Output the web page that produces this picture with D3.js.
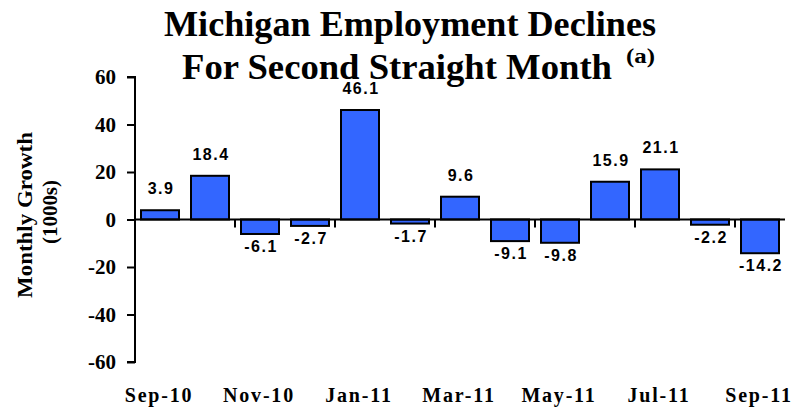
<!DOCTYPE html>
<html lang="en">
<head>
  <meta charset="UTF-8">
  <title>Michigan Employment Declines</title>
  <script src="https://d3js.org/d3.v7.min.js"></script>
  <style>
    body { margin: 0; background: #fff; }
    svg { display: block; }
    .title { font-family: "Liberation Serif", "Times New Roman", serif; font-weight: bold; }
    .tick-y { font-family: "Liberation Serif", "Times New Roman", serif; font-weight: bold; font-size: 21px; }
    .tick-x { font-family: "Liberation Serif", "Times New Roman", serif; font-weight: bold; font-size: 20px; letter-spacing: 1.8px; }
    .val { font-family: "Liberation Sans", Arial, sans-serif; font-weight: bold; font-size: 16px; letter-spacing: 1.5px; }
  </style>
</head>
<body>
  <svg width="809" height="410"></svg>
  <script>
    const months = ["Sep-10", "Oct-10", "Nov-10", "Dec-10", "Jan-11", "Feb-11", "Mar-11",
                    "Apr-11", "May-11", "Jun-11", "Jul-11", "Aug-11", "Sep-11"];
    const growth = [3.9, 18.4, -6.1, -2.7, 46.1, -1.7, 9.6, -9.1, -9.8, 15.9, 21.1, -2.2, -14.2];
    const yTicks = [-60, -40, -20, 0, 20, 40, 60];
    const xLabels = ["Sep-10", "Nov-10", "Jan-11", "Mar-11", "May-11", "Jul-11", "Sep-11"];

    const svg = d3.select("svg");
    const plotLeft = 135, plotRight = 785, plotTop = 77, plotBottom = 362;

    const x = d3.scaleBand().domain(months).range([plotLeft, plotRight]).paddingInner(0.24).paddingOuter(0.12);
    const y = d3.scaleLinear().domain([-60, 60]).range([plotBottom, plotTop]);

    // title (Times bold, a bit condensed in the original)
    svg.append("text").attr("class", "title").attr("text-anchor", "middle")
      .attr("font-size", 36).attr("x", 410).attr("y", 36)
      .attr("textLength", 492).attr("lengthAdjust", "spacingAndGlyphs")
      .text("Michigan Employment Declines");
    svg.append("text").attr("class", "title").attr("text-anchor", "middle")
      .attr("font-size", 36).attr("x", 397).attr("y", 79)
      .attr("textLength", 430).attr("lengthAdjust", "spacingAndGlyphs")
      .text("For Second Straight Month");
    svg.append("text").attr("class", "title").attr("font-size", 20)
      .attr("x", 626).attr("y", 63)
      .attr("textLength", 29).attr("lengthAdjust", "spacingAndGlyphs")
      .text("(a)");

    // y axis
    const yAxis = d3.axisLeft(y).tickValues(yTicks).tickSize(8).tickPadding(11).tickFormat(d => String(d));
    const gy = svg.append("g").attr("transform", `translate(${plotLeft},0)`).call(yAxis);
    gy.attr("font-size", null).attr("font-family", null);
    gy.select(".domain").attr("stroke", "#000").attr("stroke-width", 2).attr("d", `M-8,${plotTop}H0V${plotBottom}H-8`);
    gy.selectAll(".tick line").attr("stroke", "#000").attr("stroke-width", 2);
    gy.selectAll(".tick text").attr("class", "tick-y").attr("fill", "#000");

    // y label
    svg.append("text").attr("class", "title").attr("font-size", 21).attr("text-anchor", "middle")
      .attr("transform", "translate(32,215) rotate(-90)")
      .attr("textLength", 166).attr("lengthAdjust", "spacingAndGlyphs")
      .text("Monthly Growth");
    svg.append("text").attr("class", "title").attr("font-size", 21).attr("text-anchor", "middle")
      .attr("transform", "translate(57,212) rotate(-90)")
      .attr("textLength", 64).attr("lengthAdjust", "spacingAndGlyphs")
      .text("(1000s)");

    // bars
    svg.append("g").selectAll("rect").data(growth).join("rect")
      .attr("x", (d, i) => x(months[i]))
      .attr("width", x.bandwidth())
      .attr("y", d => y(Math.max(0, d)))
      .attr("height", d => Math.abs(y(d) - y(0)))
      .attr("fill", "#3366ff")
      .attr("stroke", "#000")
      .attr("stroke-width", 2);

    // zero line and x ticks
    svg.append("line").attr("x1", plotLeft).attr("x2", plotRight).attr("y1", y(0)).attr("y2", y(0))
      .attr("stroke", "#000").attr("stroke-width", 2);
    const step = x.step();
    svg.append("g").selectAll("line").data(d3.range(2, months.length, 2)).join("line")
      .attr("x1", i => x(months[i]) - step * 0.12)
      .attr("x2", i => x(months[i]) - step * 0.12)
      .attr("y1", y(0)).attr("y2", y(0) + 8)
      .attr("stroke", "#000").attr("stroke-width", 2);

    // value labels
    svg.append("g").selectAll("text").data(growth).join("text")
      .attr("class", "val")
      .attr("text-anchor", "middle")
      .attr("x", (d, i) => x(months[i]) + x.bandwidth() / 2 + 1)
      .attr("y", d => d >= 0 ? y(d) - 16 : y(d) + 18)
      .text(d => d.toFixed(1));

    // x labels
    svg.append("g").selectAll("text").data(xLabels).join("text")
      .attr("class", "tick-x")
      .attr("text-anchor", "middle")
      .attr("x", d => x(d) + x.bandwidth() / 2 - 1)
      .attr("y", 402)
      .text(d => d);
  </script>
</body>
</html>
